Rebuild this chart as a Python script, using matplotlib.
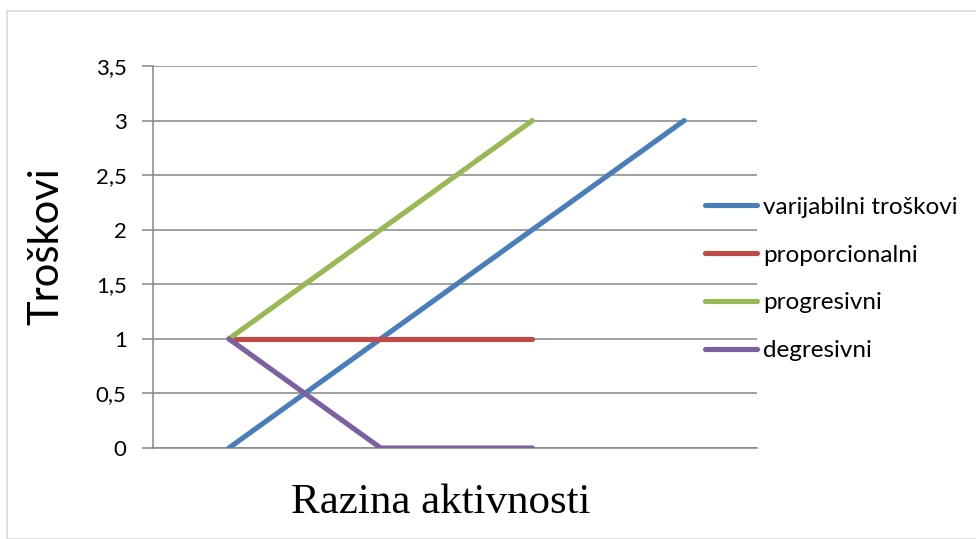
import matplotlib
matplotlib.use("Agg")
import matplotlib.pyplot as plt
import numpy as np
from matplotlib.patches import Rectangle

categories = ["1", "2", "3", "4"]
varijabilni = [0, 1, 2, 3]
proporcionalni = [1, 1, 1, np.nan]
progresivni = [1, 2, 3, np.nan]
degresivni = [1, 0, 0, np.nan]
series_names = ["varijabilni troškovi", "proporcionalni", "progresivni", "degresivni"]
y_ticks = [0, 0.5, 1, 1.5, 2, 2.5, 3, 3.5]
y_tick_labels = ["0", "0,5", "1", "1,5", "2", "2,5", "3", "3,5"]

colors = ["#4A7EBB", "#BE4B48", "#98B954", "#7D60A0"]

plt.rcParams['font.family'] = ['Lato', 'DejaVu Sans']

fig = plt.figure(figsize=(9.76, 5.39), dpi=100)
fig.patches.append(Rectangle((7/976, 0), 1, 1 - 11/539, transform=fig.transFigure,
                             fill=False, edgecolor="#D9D9D9", linewidth=1.2, zorder=0))

ax = fig.add_axes([153/976, 1 - 448/539, (757 - 153)/976, (448 - 66)/539])
x = np.arange(len(categories))
for vals, name, c in zip([varijabilni, proporcionalni, progresivni, degresivni], series_names, colors):
    ax.plot(x, vals, color=c, lw=3.7, label=name, solid_capstyle="round", zorder=3)

ax.set_xlim(-0.5, 3.48)
ax.set_ylim(0, 3.5)
ax.set_yticks(y_ticks)
ax.set_yticklabels(y_tick_labels, fontsize=16)
ax.set_xticks([])
ax.yaxis.grid(True, color="#868686", lw=1.1)
ax.set_axisbelow(True)
for s in ["top", "right"]:
    ax.spines[s].set_visible(False)
ax.spines["left"].set_color("#868686")
ax.spines["bottom"].set_color("#868686")
ax.spines["left"].set_linewidth(1.1)
ax.spines["bottom"].set_linewidth(1.1)
ax.tick_params(axis="y", length=8, width=1.1, color="#868686", pad=11)

ax.set_ylabel("Troškovi", fontsize=30)
ax.yaxis.set_label_coords(-0.145, (448 - 246) / (448 - 66))
fig.text(441/976, 1 - 503/539, "Razina aktivnosti", fontsize=31,
         family="Liberation Serif", ha="center", va="center")

leg = ax.legend(loc="center left", bbox_to_anchor=(705/976, 1 - 279/539),
                bbox_transform=fig.transFigure, frameon=False, fontsize=17.5,
                handlelength=2.15, handletextpad=0.25, labelspacing=1.1,
                borderpad=0, borderaxespad=0)

fig.savefig("out.png", dpi=100)
